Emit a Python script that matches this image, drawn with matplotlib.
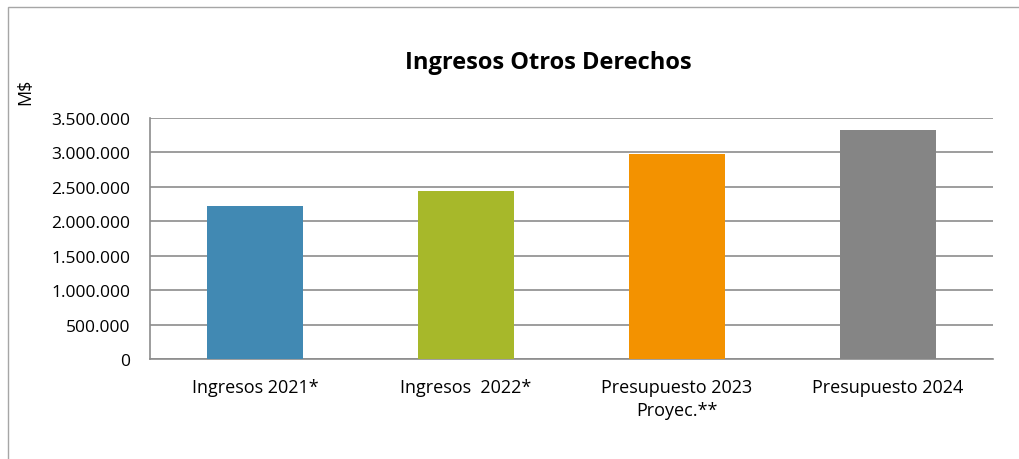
import matplotlib.pyplot as plt
from matplotlib.patches import Rectangle
from matplotlib.ticker import FuncFormatter

categorias = ['Ingresos 2021*', 'Ingresos  2022*', 'Presupuesto 2023\nProyec.**', 'Presupuesto 2024']
valores = [2223000, 2441000, 2984000, 3329000]
colores = ['#4189b3', '#a7b82a', '#f39200', '#858585']
yticks = [0, 500000, 1000000, 1500000, 2000000, 2500000, 3000000, 3500000]

plt.rcParams['font.family'] = ['Open Sans', 'DejaVu Sans']

fig = plt.figure(figsize=(10.2, 4.6), dpi=100)
ax = fig.add_axes([150 / 1020, 1 - 360 / 460, 843 / 1020, 241 / 460])

# borde del grafico
fig.patches.append(Rectangle((8 / 1020, -0.1), 1.2, (452 / 460) + 0.1,
                             transform=fig.transFigure, fill=False,
                             edgecolor='#a6a6a6', linewidth=1))

x = range(len(categorias))
ax.bar(x, valores, width=0.455, color=colores, zorder=3)

ax.set_xlim(-0.5, len(categorias) - 0.5)
ax.set_ylim(0, 3500000)
ax.set_yticks(yticks)
ax.yaxis.set_major_formatter(FuncFormatter(lambda v, p: f'{int(v):,}'.replace(',', '.')))
ax.set_xticks(list(x))
ax.set_xticklabels(categorias, fontsize=13, linespacing=1.3)
ax.tick_params(axis='y', labelsize=12.5, length=0, pad=14)
ax.tick_params(axis='x', length=0, pad=14)
ax.grid(axis='y', color='#8c8c8c', linewidth=1.2, zorder=0)

for s in ['top', 'right']:
    ax.spines[s].set_visible(False)
ax.spines['left'].set_color('#8c8c8c')
ax.spines['bottom'].set_color('#8c8c8c')
ax.spines['left'].set_linewidth(1.2)
ax.spines['bottom'].set_linewidth(1.2)

fig.text(548 / 1020, 1 - 63 / 460, 'Ingresos Otros Derechos', ha='center', va='center',
         fontsize=17, fontweight='bold')
fig.text(25 / 1020, 1 - 92 / 460, 'M$', rotation=90, ha='center', va='center', fontsize=13)

fig.savefig('out.png', dpi=100)
